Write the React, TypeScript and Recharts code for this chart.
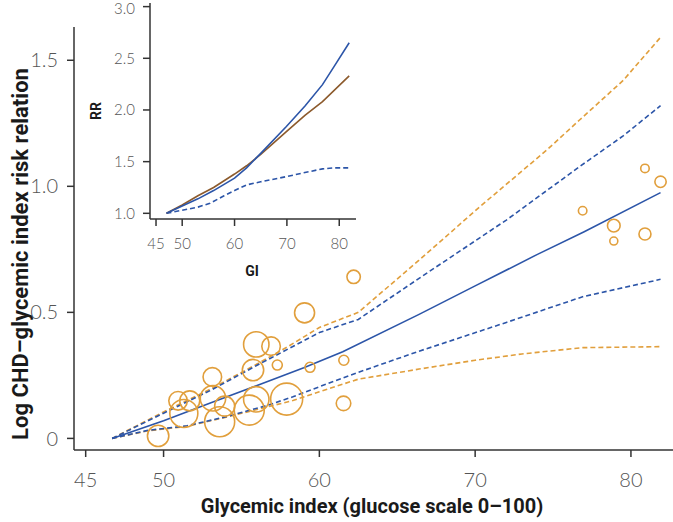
import React from 'react';
import { ComposedChart, Line, Scatter, XAxis, YAxis, ZAxis } from 'recharts';

const BLUE = '#2C55A8';
const ORANGE = '#E19F3C';
const BROWN = '#8C5A2C';
const AXIS = '#333333';
const TICK = '#555555';
const TICK_FONT = "Lato, 'Open Sans', sans-serif";
const TITLE_FONT = "Roboto, 'Noto Sans', sans-serif";

const mainXTicks = [45, 50, 60, 70, 80];
const mainYTicks = [0, 0.5, 1.0, 1.5];
const insetXTicks = [45, 50, 60, 70, 80];
const insetYTicks = [1.0, 1.5, 2.0, 2.5, 3.0];

// Main chart: log RR curves (gi, v)
const centralFit = [
  { gi: 46.7, v: 0 }, { gi: 50, v: 0.07 }, { gi: 53, v: 0.14 }, { gi: 56, v: 0.21 },
  { gi: 59, v: 0.28 }, { gi: 61.5, v: 0.344 }, { gi: 66.4, v: 0.492 }, { gi: 70, v: 0.605 },
  { gi: 74, v: 0.73 }, { gi: 77, v: 0.82 }, { gi: 81.9, v: 0.975 },
];
const upperBlue = [
  { gi: 46.7, v: 0 }, { gi: 50, v: 0.1 }, { gi: 53, v: 0.19 }, { gi: 56, v: 0.29 },
  { gi: 58, v: 0.355 }, { gi: 60, v: 0.42 }, { gi: 62.5, v: 0.472 }, { gi: 66.4, v: 0.635 },
  { gi: 72, v: 0.866 }, { gi: 76.7, v: 1.078 }, { gi: 79.5, v: 1.2 }, { gi: 81.9, v: 1.32 },
];
const lowerBlue = [
  { gi: 46.7, v: 0 }, { gi: 49, v: 0.032 }, { gi: 51.5, v: 0.05 }, { gi: 54, v: 0.086 },
  { gi: 56.6, v: 0.13 }, { gi: 58.3, v: 0.165 }, { gi: 60, v: 0.205 }, { gi: 62.5, v: 0.262 },
  { gi: 66.4, v: 0.346 }, { gi: 72, v: 0.46 }, { gi: 76.9, v: 0.562 }, { gi: 81.9, v: 0.631 },
];
const upperOrange = [
  { gi: 46.7, v: 0 }, { gi: 50, v: 0.105 }, { gi: 53, v: 0.195 }, { gi: 56, v: 0.295 },
  { gi: 58, v: 0.365 }, { gi: 60, v: 0.44 }, { gi: 62.5, v: 0.5 }, { gi: 66.4, v: 0.707 },
  { gi: 70.3, v: 0.919 }, { gi: 74.6, v: 1.144 }, { gi: 76.7, v: 1.263 }, { gi: 79.5, v: 1.42 },
  { gi: 81.9, v: 1.591 },
];
const lowerOrange = [
  { gi: 46.7, v: 0 }, { gi: 49, v: 0.03 }, { gi: 51.5, v: 0.048 }, { gi: 54, v: 0.084 },
  { gi: 56.6, v: 0.124 }, { gi: 58.3, v: 0.15 }, { gi: 60, v: 0.185 }, { gi: 62.5, v: 0.235 },
  { gi: 66.4, v: 0.275 }, { gi: 70, v: 0.31 }, { gi: 73, v: 0.335 }, { gi: 76.9, v: 0.36 },
  { gi: 81.9, v: 0.364 },
];

// Individual studies: gi, log RR, weight
const studies = [
  { gi: 49.65, v: 0.01, w: 114 }, { gi: 50.93, v: 0.149, w: 86 }, { gi: 51.68, v: 0.149, w: 100 },
  { gi: 51.3, v: 0.099, w: 196 }, { gi: 53.13, v: 0.244, w: 86 }, { gi: 53.17, v: 0.159, w: 161 },
  { gi: 53.92, v: 0.128, w: 100 }, { gi: 53.6, v: 0.066, w: 225 }, { gi: 55.95, v: 0.373, w: 161 },
  { gi: 56.9, v: 0.366, w: 86 }, { gi: 55.74, v: 0.271, w: 114 }, { gi: 57.3, v: 0.291, w: 25 },
  { gi: 55.5, v: 0.112, w: 225 }, { gi: 55.95, v: 0.155, w: 161 }, { gi: 57.9, v: 0.156, w: 256 },
  { gi: 59.05, v: 0.498, w: 100 }, { gi: 59.4, v: 0.282, w: 25 }, { gi: 61.57, v: 0.31, w: 25 },
  { gi: 61.55, v: 0.139, w: 53 }, { gi: 62.2, v: 0.641, w: 45 }, { gi: 76.9, v: 0.903, w: 18 },
  { gi: 78.9, v: 0.844, w: 40 }, { gi: 78.9, v: 0.783, w: 16 }, { gi: 80.9, v: 1.071, w: 18 },
  { gi: 81.9, v: 1.018, w: 32 }, { gi: 80.9, v: 0.811, w: 36 },
];

// Inset: RR curves
const insetBlue = [
  { gi: 47, v: 1.0 }, { gi: 50, v: 1.07 }, { gi: 53, v: 1.14 }, { gi: 56, v: 1.22 },
  { gi: 60, v: 1.34 }, { gi: 62.3, v: 1.44 }, { gi: 65, v: 1.58 }, { gi: 69.9, v: 1.84 },
  { gi: 73.5, v: 2.04 }, { gi: 76.8, v: 2.245 }, { gi: 79, v: 2.42 }, { gi: 81.9, v: 2.65 },
];
const insetBrown = [
  { gi: 47, v: 1.0 }, { gi: 50, v: 1.08 }, { gi: 53, v: 1.17 }, { gi: 56, v: 1.25 },
  { gi: 60, v: 1.38 }, { gi: 62.3, v: 1.46 }, { gi: 65, v: 1.57 }, { gi: 69.9, v: 1.79 },
  { gi: 73.5, v: 1.95 }, { gi: 76.8, v: 2.08 }, { gi: 81.9, v: 2.33 },
];
const insetDashed = [
  { gi: 47, v: 1.0 }, { gi: 50, v: 1.03 }, { gi: 53, v: 1.06 }, { gi: 55.3, v: 1.097 },
  { gi: 58, v: 1.17 }, { gi: 60, v: 1.22 }, { gi: 62.3, v: 1.275 }, { gi: 65, v: 1.305 },
  { gi: 69.9, v: 1.355 }, { gi: 73, v: 1.39 }, { gi: 76.8, v: 1.43 }, { gi: 79, v: 1.44 },
  { gi: 81.9, v: 1.44 },
];

const Ring = (props: any) => {
  const { cx, cy, width, size } = props;
  const r = typeof width === 'number' ? width / 2 : Math.sqrt((size || 0) / Math.PI);
  return <circle cx={cx} cy={cy} r={r} fill="none" stroke={ORANGE} strokeWidth={1.6} />;
};

const XTitle = () => (
  <text x={372} y={513} textAnchor="middle" fontFamily={TITLE_FONT} fontWeight={700} fontSize={20} fill="#1a1a1a">
    Glycemic index (glucose scale 0–100)
  </text>
);
const YTitle = () => (
  <text x={28} y={254} transform="rotate(-90 28 254)" textAnchor="middle" fontFamily={TITLE_FONT} fontWeight={700} fontSize={22} fill="#1a1a1a">
    Log CHD–glycemic index risk relation
  </text>
);
const InsetX = () => (
  <text x={252} y={276} textAnchor="middle" fontFamily={TITLE_FONT} fontWeight={700} fontSize={14} fill="#1a1a1a">GI</text>
);
const InsetY = () => (
  <text x={101} y={111} transform="rotate(-90 101 111)" textAnchor="middle" fontFamily={TITLE_FONT} fontWeight={700} fontSize={14} fill="#1a1a1a">RR</text>
);

const mainFmt = (v: number) => (v === 0 ? '0' : v.toFixed(1));
const insetFmt = (v: number) => v.toFixed(1);

export default function App() {
  const axisLine = { stroke: AXIS, strokeWidth: 1.5 };
  const mainTick = { fill: TICK, fontSize: 20, fontFamily: TICK_FONT, fontWeight: 300 };
  const insetTick = { fill: TICK, fontSize: 15, fontFamily: TICK_FONT, fontWeight: 300 };
  return (
    <div style={{ position: 'absolute', left: 0, top: 0, width: 673, height: 522, background: '#fff' }}>
      <ComposedChart width={673} height={522} margin={{ top: 27, right: 0, bottom: 0, left: 0 }}>
        <XAxis type="number" dataKey="gi" domain={[44.25, 82.7]} ticks={mainXTicks} allowDataOverflow
          height={72} tickSize={7} tickMargin={16} axisLine={axisLine} tickLine={axisLine} tick={mainTick}
          label={<XTitle />} />
        <YAxis type="number" dataKey="v" domain={[-0.046, 1.632]} ticks={mainYTicks} allowDataOverflow
          width={74} tickSize={7} tickMargin={9} axisLine={axisLine} tickLine={axisLine} tick={mainTick}
          tickFormatter={mainFmt} label={<YTitle />} />
        <ZAxis type="number" dataKey="w" domain={[0, 256]} range={[0, 256 * Math.PI]} />
        <Scatter data={studies} shape={Ring} isAnimationActive={false} />
        <Line data={upperOrange} dataKey="v" stroke={ORANGE} strokeWidth={1.6} strokeDasharray="5 3" dot={false} activeDot={false} isAnimationActive={false} />
        <Line data={lowerOrange} dataKey="v" stroke={ORANGE} strokeWidth={1.6} strokeDasharray="5 3" dot={false} activeDot={false} isAnimationActive={false} />
        <Line data={upperBlue} dataKey="v" stroke={BLUE} strokeWidth={1.6} strokeDasharray="5 3" dot={false} activeDot={false} isAnimationActive={false} />
        <Line data={lowerBlue} dataKey="v" stroke={BLUE} strokeWidth={1.6} strokeDasharray="5 3" dot={false} activeDot={false} isAnimationActive={false} />
        <Line data={centralFit} dataKey="v" stroke={BLUE} strokeWidth={1.6} dot={false} activeDot={false} isAnimationActive={false} />
      </ComposedChart>
      <div style={{ position: 'absolute', left: 0, top: 0 }}>
        <ComposedChart width={360} height={290} margin={{ top: 3, right: 4, bottom: 0, left: 0 }}>
          <XAxis type="number" dataKey="gi" domain={[43.85, 83.2]} ticks={insetXTicks} allowDataOverflow
            height={71} tickSize={7} tickMargin={12} axisLine={axisLine} tickLine={axisLine} tick={insetTick}
            label={<InsetX />} />
          <YAxis type="number" dataKey="v" domain={[0.945, 3.035]} ticks={insetYTicks} allowDataOverflow
            width={150} tickSize={7} tickMargin={8} axisLine={axisLine} tickLine={axisLine} tick={insetTick}
            tickFormatter={insetFmt} label={<InsetY />} />
          <Line data={insetDashed} dataKey="v" stroke={BLUE} strokeWidth={1.6} strokeDasharray="5 3" dot={false} activeDot={false} isAnimationActive={false} />
          <Line data={insetBrown} dataKey="v" stroke={BROWN} strokeWidth={1.6} dot={false} activeDot={false} isAnimationActive={false} />
          <Line data={insetBlue} dataKey="v" stroke={BLUE} strokeWidth={1.6} dot={false} activeDot={false} isAnimationActive={false} />
        </ComposedChart>
      </div>
    </div>
  );
}
